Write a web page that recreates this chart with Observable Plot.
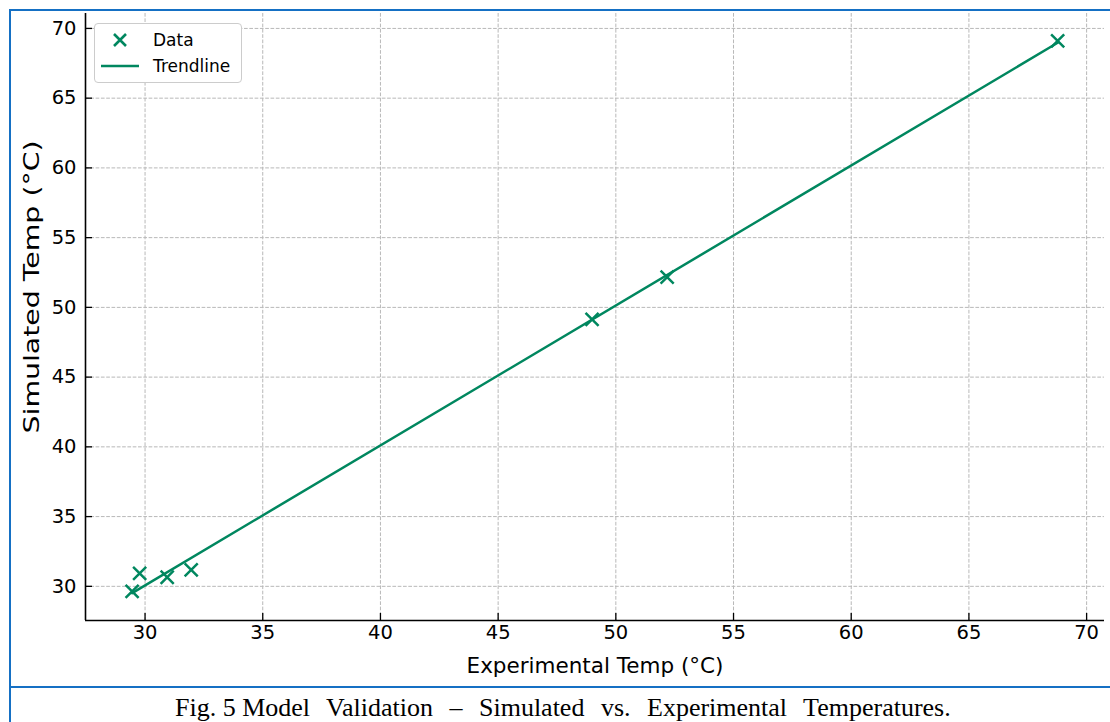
<!DOCTYPE html>
<html>
<head>
<meta charset="utf-8">
<script src="https://cdn.jsdelivr.net/npm/d3@7"></script>
<script src="https://cdn.jsdelivr.net/npm/@observablehq/plot@0.6"></script>
<style>
  html, body { margin: 0; padding: 0; background: #fff; }
  #wrap { position: relative; width: 1110px; height: 722px; overflow: hidden; background: #fff; }
  #chart { position: absolute; left: 0; top: 0; }
  .bl { position: absolute; background: #1570c4; }
  #legend { position: absolute; left: 94px; top: 23px; width: 146px; height: 58px;
            border: 1px solid #cccccc; border-radius: 4px; background: #fff;
            font-family: "DejaVu Sans", sans-serif; font-size: 17px; color: #000; }
  #legend .row { position: absolute; left: 0; height: 24px; line-height: 24px; white-space: nowrap; }
  #legend svg { position: absolute; left: 0; top: 0; }
  #legend span { position: absolute; left: 58px; top: 0; }
  #caption { position: absolute; left: 175px; top: 695px; line-height: 26px; white-space: nowrap;
             font-family: "Liberation Serif", "Times New Roman", serif; font-size: 26px; color: #000; }
</style>
</head>
<body>
<div id="wrap">
  <div id="chart"></div>
  <div class="bl" style="left:9px; top:9px; width:1101px; height:1.5px;"></div>
  <div class="bl" style="left:9px; top:9px; width:2px; height:713px;"></div>
  <div class="bl" style="left:9px; top:685.5px; width:1101px; height:2.5px;"></div>
  <div id="legend"></div>
  <div id="caption"></div>
</div>
<script>
// ---- data ----
const experimental = [29.45, 29.77, 30.94, 31.96, 48.99, 52.18, 68.77];
const simulated    = [29.64, 30.93, 30.65, 31.18, 49.14, 52.17, 69.11];
const xTicks = [30, 35, 40, 45, 50, 55, 60, 65, 70];
const yTicks = [30, 35, 40, 45, 50, 55, 60, 65, 70];
const xDomain = [27.47, 70.76];
const yDomain = [27.55, 71.07];
const xLabel = "Experimental Temp (°C)";
const yLabel = "Simulated Temp (°C)";
const seriesNames = ["Data", "Trendline"];
const captionText = ["Fig. 5 Model", " Validation – Simulated vs. Experimental Temperatures."];

const teal = "#00875f";
const data = experimental.map((x, i) => ({exp: x, sim: simulated[i]}));

const gridStyle = {stroke: "#b8b8b8", strokeOpacity: 1, strokeWidth: 1, strokeDasharray: "3.7,1.6"};

const chart = Plot.plot({
  width: 1110,
  height: 686,
  marginLeft: 85,
  marginRight: 6,
  marginTop: 13,
  marginBottom: 66,
  style: {fontFamily: "DejaVu Sans, sans-serif", fontSize: "19.5px", color: "#000", background: "transparent"},
  x: {domain: xDomain},
  y: {domain: yDomain},
  marks: [
    Plot.gridX(xTicks, gridStyle),
    Plot.gridY(yTicks, gridStyle),
    Plot.axisX(xTicks, {tickSize: -7, tickPadding: 12, label: null, strokeWidth: 1.3, fontSize: 19.5}),
    Plot.axisY(yTicks, {tickSize: -7, tickPadding: 16, label: null, strokeWidth: 1.3, fontSize: 19.5}),
    Plot.ruleX([xDomain[0]], {stroke: "#000", strokeWidth: 1.6}),
    Plot.ruleY([yDomain[0]], {stroke: "#000", strokeWidth: 1.6}),
    Plot.linearRegressionY(data, {x: "exp", y: "sim", ci: 0, stroke: teal, strokeWidth: 2.5}),
    Plot.dot(data, {x: "exp", y: "sim", symbol: "times", r: 6, stroke: teal, strokeWidth: 2.5}),
    Plot.text([xLabel], {text: d => d, frameAnchor: "bottom", dy: 46, lineAnchor: "middle", fontSize: 21.5, fill: "#000"}),
    Plot.text([yLabel], {text: d => d, frameAnchor: "left", rotate: -90, dx: -53, dy: 116.5, textAnchor: "start", lineAnchor: "middle", fontSize: 21.5, fill: "#000"})
  ]
});
document.getElementById("chart").appendChild(chart);

// stretch the y label to the reference length
d3.select(chart).selectAll("text").filter(function() { return this.textContent === yLabel; })
  .attr("textLength", 293).attr("lengthAdjust", "spacingAndGlyphs");

// ---- legend ----
const legend = d3.select("#legend");
const rows = [
  {name: seriesNames[0], top: 4, kind: "dot"},
  {name: seriesNames[1], top: 30, kind: "line"}
];
rows.forEach(r => {
  const row = legend.append("div").attr("class", "row").style("top", r.top + "px").style("width", "146px");
  const svg = row.append("svg").attr("width", 50).attr("height", 24);
  if (r.kind === "dot") {
    svg.append("path").attr("d", "M19,6L31,18M19,18L31,6").attr("stroke", teal).attr("stroke-width", 2.6).attr("fill", "none");
  } else {
    svg.append("line").attr("x1", 6).attr("x2", 44).attr("y1", 12).attr("y2", 12).attr("stroke", teal).attr("stroke-width", 2.5);
  }
  row.append("span").text(r.name);
});

// ---- caption ----
const cap = d3.select("#caption");
cap.append("span").text(captionText[0]);
cap.append("span").style("word-spacing", "10px").text(captionText[1]);
</script>
</body>
</html>
